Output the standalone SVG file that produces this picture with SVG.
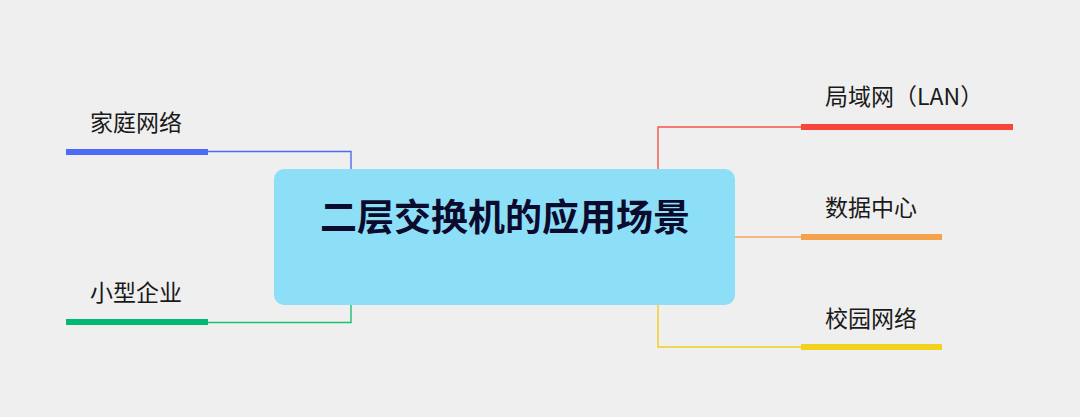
<svg xmlns="http://www.w3.org/2000/svg" width="1080" height="417" viewBox="0 0 1080 417">
<style>
.lbl{font-family:"Noto Sans CJK SC","Noto Sans",sans-serif;font-size:23px;fill:#1a1a1a}
.title{font-family:"Noto Sans CJK SC","Noto Sans",sans-serif;font-size:37px;font-weight:bold;fill:#0b0b2e}
.conn{fill:none;stroke-width:1.4}
</style>
<rect width="1080" height="417" fill="#efefef"/>
<g id="connectors">
<polyline class="conn" stroke="#4a6cf7" points="208,151.5 351,151.5 351,169"/>
<polyline class="conn" stroke="#1dbf73" points="208,322.5 351,322.5 351,305"/>
<polyline class="conn" stroke="#f5574a" points="658,169 658,127 801,127"/>
<polyline class="conn" stroke="#f5a55a" points="735,237 801,237"/>
<polyline class="conn" stroke="#f2cf1e" points="658,305 658,347 801,347"/>
</g>
<g id="root">
<rect x="274" y="169" width="461" height="136" rx="10" fill="#8ddff8"/>
<text class="title" x="505" y="231" text-anchor="middle">二层交换机的应用场景</text>
</g>
<g id="home">
<rect x="66" y="149" width="142" height="6" fill="#4a6cf7"/>
<text class="lbl" x="90" y="131">家庭网络</text>
</g>
<g id="smb">
<rect x="66" y="319" width="142" height="6" fill="#00b874"/>
<text class="lbl" x="90" y="301">小型企业</text>
</g>
<g id="lan">
<rect x="801" y="124" width="212" height="6" fill="#f7453a"/>
<text class="lbl" x="825" y="105">局域网（LAN）</text>
</g>
<g id="dc">
<rect x="801" y="234" width="141" height="6" fill="#f5a24d"/>
<text class="lbl" x="825" y="216">数据中心</text>
</g>
<g id="campus">
<rect x="801" y="344" width="141" height="6" fill="#f2d21c"/>
<text class="lbl" x="825" y="327">校园网络</text>
</g>
</svg>
